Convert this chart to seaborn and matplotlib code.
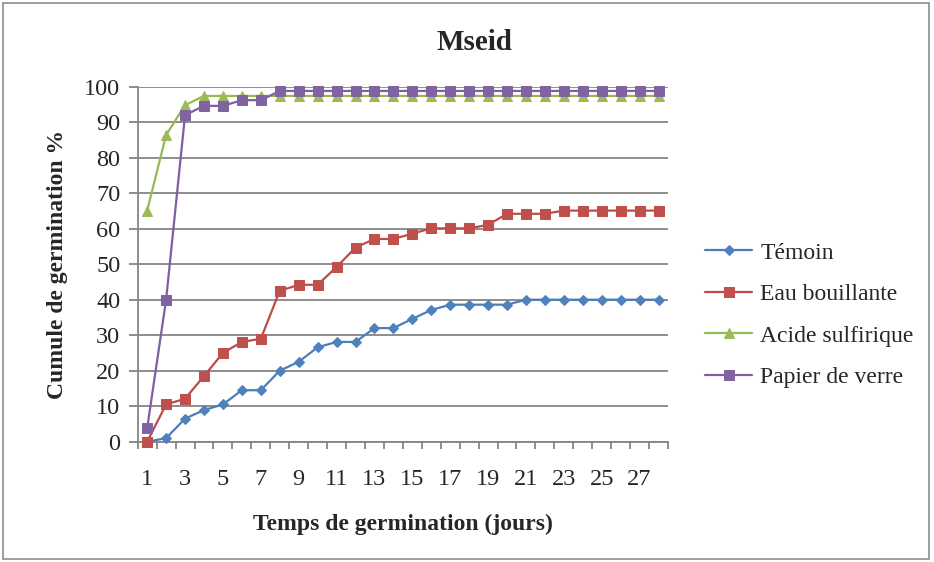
import matplotlib
matplotlib.use("Agg")
import matplotlib.pyplot as plt
from matplotlib.patches import Rectangle
import seaborn as sns
import pandas as pd

days = list(range(1, 29))
temoin = [0.0, 1.0, 6.5, 8.9, 10.5, 14.5, 14.5, 20.0, 22.5, 26.6, 28.1, 28.1, 32.0, 32.0,
          34.6, 37.1, 38.6, 38.6, 38.6, 38.6, 40.0, 40.0, 40.0, 40.0, 40.0, 40.0, 40.0, 40.0]
eau_bouillante = [0.0, 10.5, 12.1, 18.5, 25.0, 28.1, 29.0, 42.5, 44.2, 44.2, 49.2, 54.7, 57.1, 57.1,
                  58.6, 60.1, 60.1, 60.1, 61.1, 64.2, 64.2, 64.2, 65.1, 65.1, 65.1, 65.1, 65.1, 65.1]
acide_sulfurique = [65.1, 86.4, 94.8, 97.4, 97.4, 97.4, 97.4, 97.4, 97.4, 97.4, 97.4, 97.4, 97.4, 97.4,
                    97.4, 97.4, 97.4, 97.4, 97.4, 97.4, 97.4, 97.4, 97.4, 97.4, 97.4, 97.4, 97.4, 97.4]
papier_verre = [3.8, 40.0, 92.0, 94.6, 94.6, 96.2, 96.2, 98.8, 98.8, 98.8, 98.8, 98.8, 98.8, 98.8,
                98.8, 98.8, 98.8, 98.8, 98.8, 98.8, 98.8, 98.8, 98.8, 98.8, 98.8, 98.8, 98.8, 98.8]
series_names = ["Témoin", "Eau bouillante", "Acide sulfirique", "Papier de verre"]
x_tick_labels = [str(d) for d in range(1, 29, 2)]
y_ticks = [0, 10, 20, 30, 40, 50, 60, 70, 80, 90, 100]

sns.set_theme(style="white")
plt.rcParams["font.family"] = ["Liberation Serif", "DejaVu Serif"]

fig = plt.figure(figsize=(9.34, 5.62), dpi=100)
ax = fig.add_axes([137.7 / 934, 1 - 441.7 / 562, (668 - 137.7) / 934, (441.7 - 86.7) / 562])

colors = ["#4A7EBB", "#BE4B48", "#98B954", "#7D60A0"]
mcolors = ["#4F81BD", "#C0504D", "#9BBB59", "#8064A2"]
markers = ["D", "s", "^", "s"]
msizes = [5.5, 6.5, 7, 6.5]
all_vals = [temoin, eau_bouillante, acide_sulfurique, papier_verre]

for name, vals, c, mc, m, ms in zip(series_names, all_vals, colors, mcolors, markers, msizes):
    df = pd.DataFrame({"jour": days, "val": vals})
    sns.lineplot(data=df, x="jour", y="val", ax=ax, color=c, lw=1.6, marker=m,
                 markersize=ms, markerfacecolor=mc, markeredgecolor=mc, label=name,
                 legend=False, zorder=3, clip_on=False)

ax.set_xlim(0.5, 28.5)
ax.set_ylim(0, 100)
ax.set_yticks(y_ticks)
ax.set_yticklabels([str(v) for v in y_ticks], fontsize=17.5)
ax.yaxis.grid(True, color="#858585", lw=1.3)
ax.set_axisbelow(True)

ax.set_xticks(list(range(1, 29, 2)))
ax.set_xticklabels(x_tick_labels, fontsize=17.5)
ax.set_xticks([d + 0.5 for d in range(0, 29)], minor=True)
ax.tick_params(axis="x", which="major", length=0, pad=20)
ax.tick_params(axis="x", which="minor", length=5, width=1.3, color="#858585", direction="out", bottom=True)
ax.tick_params(axis="y", which="major", length=6.5, width=1.3, color="#858585", direction="out", left=True, pad=6)

for s in ["top", "right"]:
    ax.spines[s].set_visible(False)
for s in ["left", "bottom"]:
    ax.spines[s].set_color("#858585")
    ax.spines[s].set_linewidth(1.3)

ax.set_xlabel("Temps de germination (jours)", fontsize=17, fontweight="bold", labelpad=17)
ax.set_ylabel("Cumule de germination %", fontsize=17, fontweight="bold", labelpad=12)
fig.text(474 / 934, 1 - 42 / 562, "Mseid", fontsize=21, fontweight="bold", ha="center", va="center")

handles, labels = ax.get_legend_handles_labels()
fig.legend(handles, labels, loc="upper left", bbox_to_anchor=(705 / 934, 1 - 242 / 562),
           frameon=False, fontsize=17, handlelength=2.0, handletextpad=0.35,
           labelspacing=0.85, borderaxespad=0, borderpad=0)

fig.patches.append(Rectangle((3 / 934, 3 / 562), 926 / 934, 556 / 562, transform=fig.transFigure,
                             fill=False, edgecolor="#8C8C8C", lw=1.2))

fig.savefig("out.png", dpi=100)
